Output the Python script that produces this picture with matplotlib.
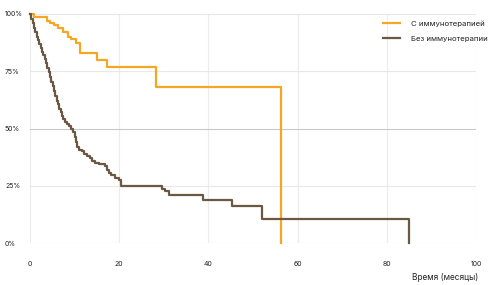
import matplotlib

matplotlib.use('Agg')

import matplotlib.pyplot as plt

plt.rcParams['font.family'] = ['Inter', 'DejaVu Sans']

# Kaplan-Meier steps: time (months) and survival (%) after each step
with_time = [0, 0.8, 3.7, 4.5, 5.3, 6.3, 7.4, 8.5, 9.3, 10.3, 11.2, 15.0, 17.2, 28.2, 56.2]
with_surv = [100, 98.5, 97, 96, 95, 94, 92, 90, 89, 87.5, 83, 80, 77, 68.3, 0]

without_time = [0, 0.3, 0.6, 0.9, 1.2, 1.5, 1.8, 2.1, 2.4, 2.7, 3.0, 3.3, 3.6, 3.9, 4.2,
                4.5, 4.8, 5.1, 5.4, 5.7, 6.0, 6.3, 6.6, 6.9, 7.2, 7.5, 7.8, 8.2, 8.7,
                9.2, 9.6, 10.0, 10.3, 10.6, 10.9, 11.6, 12.2, 12.8, 13.4, 14.0, 14.6,
                15.5, 16.8, 17.3, 17.7, 18.2, 19.0, 19.9, 20.3, 29.5, 30.3, 31.2,
                38.9, 45.2, 52.0, 85.0]
without_surv = [100, 98, 96, 94, 92, 90, 88.5, 87, 85, 83.5, 82, 80.5, 78.5, 76.5, 74.5,
                72.5, 70.5, 68.5, 66.5, 64, 62, 60.5, 58.5, 57, 55.5, 54, 53, 52, 51,
                50, 48.5, 46.5, 44, 42, 40.5, 40, 39, 38, 37, 36, 35,
                34.5, 33.5, 32, 30.5, 29.7, 28.5, 27.5, 25, 23.5, 22.5, 21,
                18.8, 16, 10.5, 0]

labels = ['С иммунотерапией', 'Без иммунотерапии']
colors = ['#F5A623', '#6B5843']
x_ticks = [0, 20, 40, 60, 80, 100]
y_ticks = [0, 25, 50, 75, 100]
y_labels = ['0%', '25%', '50%', '75%', '100%']

fig = plt.figure(figsize=(4.95, 2.85), dpi=100)
ax = fig.add_axes([30 / 495, 1 - 243 / 285, 446 / 495, 229 / 285])

ax.step(with_time, with_surv, where='post', color=colors[0], lw=1.6,
        label=labels[0], clip_on=False, zorder=3)
ax.step(without_time, without_surv, where='post', color=colors[1], lw=1.6,
        label=labels[1], clip_on=False, zorder=3)

ax.set_xlim(0, 100)
ax.set_ylim(0, 100)
ax.set_xticks(x_ticks)
ax.set_yticks(y_ticks)
ax.set_yticklabels(y_labels, ha='left')
ax.tick_params(axis='y', length=0, pad=18, labelsize=5, colors='#222222')
ax.tick_params(axis='x', length=0, pad=13, labelsize=5, colors='#222222')

for v in x_ticks:
    ax.axvline(v, color='#ececec', lw=0.8, zorder=0)
for v in y_ticks:
    ax.axhline(v, color='#c8c8c8' if v == 50 else '#e8e8e8', lw=0.8, zorder=0)
for s in ax.spines.values():
    s.set_visible(False)

fig.text(478 / 495, 1 - 278 / 285, 'Время (месяцы)', ha='right', va='center',
         fontsize=6, color='#222222')

ax.legend(loc='upper left', bbox_to_anchor=(376 / 495, 1 - 13 / 285),
          bbox_transform=fig.transFigure, frameon=False, fontsize=5.6,
          handlelength=2.2, handletextpad=1.4, labelspacing=1.1,
          labelcolor='#222222')

fig.savefig('out.png', dpi=100)
